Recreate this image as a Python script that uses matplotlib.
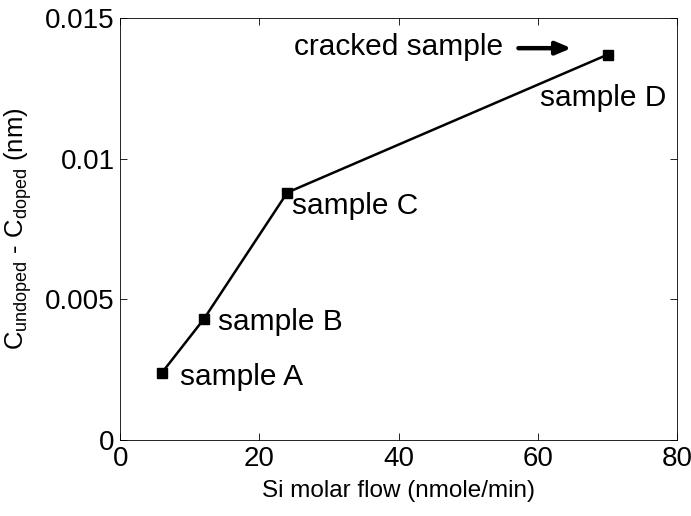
import matplotlib
matplotlib.use("Agg")
from matplotlib import pyplot as plt

plt.rcParams['font.family'] = ['Liberation Sans', 'DejaVu Sans']
plt.rcParams['mathtext.fontset'] = 'custom'
plt.rcParams['mathtext.rm'] = 'Liberation Sans'
plt.rcParams['mathtext.it'] = 'Liberation Sans:italic'

# data
si_flow = [6, 12, 24, 70]
c_diff = [0.0024, 0.0043, 0.0088, 0.0137]
labels = ["sample A", "sample B", "sample C", "sample D"]
# label anchor (left, baseline) in data units
label_x = [8.6, 14.0, 24.7, 60.3]
label_y = [0.00196, 0.00391, 0.00803, 0.01187]

FS_NOTE = 21.5
FS_TICK = 20
FS_XLAB = 17.5
FS_YLAB = 18.5

fig = plt.figure(figsize=(6.91, 5.16), dpi=100)
ax = fig.add_axes([0.174, 0.147, 0.806, 0.818])

ax.plot(si_flow, c_diff, 'k-', linewidth=1.8, marker='s', markersize=7)

for lx, ly, txt in zip(label_x, label_y, labels):
    ax.text(lx, ly, txt, fontsize=FS_NOTE, va='baseline', ha='left')

# cracked sample arrow
ax.text(25.0, 0.01368, "cracked sample", fontsize=FS_NOTE, va='baseline', ha='left')
ax.annotate("", xy=(65.2, 0.01393), xytext=(56.8, 0.01393),
            arrowprops=dict(arrowstyle='-|>,head_length=0.9,head_width=0.38',
                            color='k', lw=3.2))

ax.set_xlim(0, 80)
ax.set_ylim(0, 0.015)
ax.set_xticks([0, 20, 40, 60, 80])
ax.set_yticks([0, 0.005, 0.01, 0.015])
ax.set_yticklabels(["0", "0.005", "0.01", "0.015"])
ax.tick_params(direction='in', labelsize=FS_TICK, length=5, width=0.6, pad=4,
               top=True, right=True, labeltop=False, labelright=False)
for s in ax.spines.values():
    s.set_linewidth(0.6)

ax.set_xlabel("Si molar flow (nmole/min)", fontsize=FS_XLAB, labelpad=6)
ax.set_ylabel(r"C$_{\mathrm{undoped}}$ - C$_{\mathrm{doped}}$ (nm)", fontsize=FS_YLAB, labelpad=8)

fig.savefig("out.png", dpi=100)
